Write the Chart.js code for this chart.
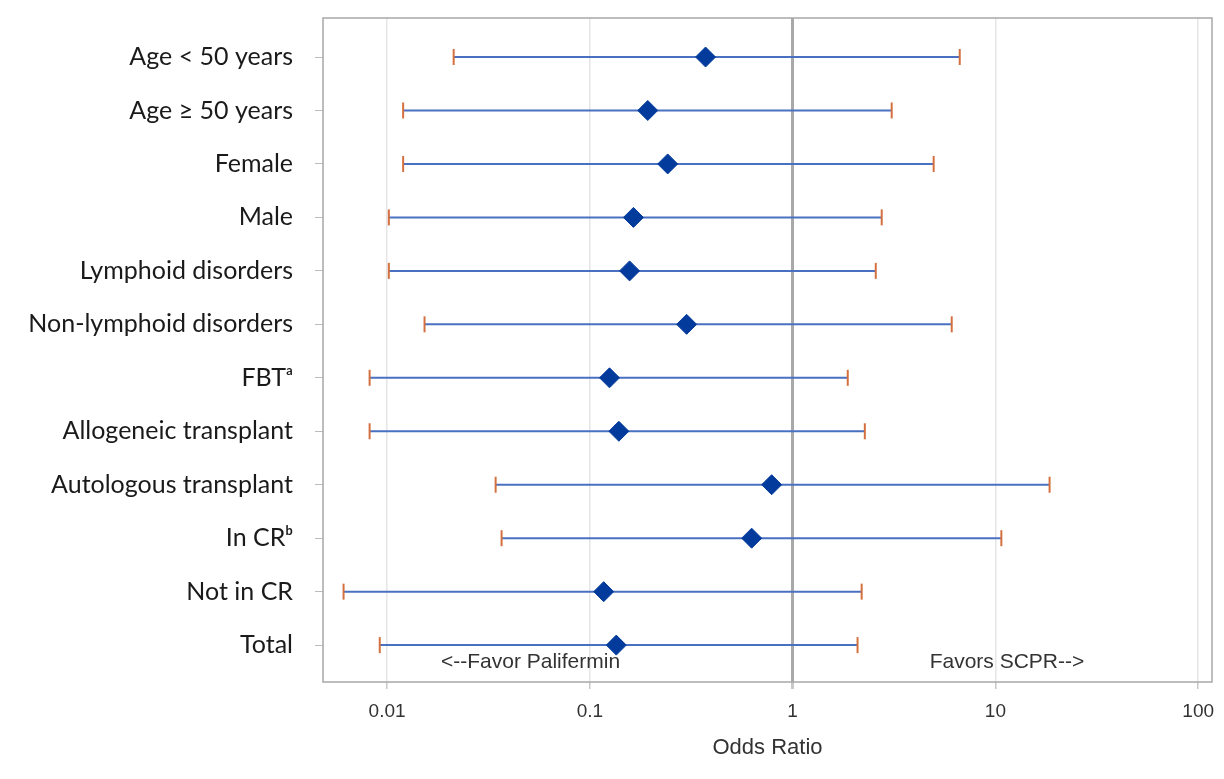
<!DOCTYPE html>
<html>
<head>
<meta charset="utf-8">
<script src="https://cdn.jsdelivr.net/npm/chart.js@4"></script>
<style>
  html, body { margin: 0; padding: 0; background: #fff; }
  #wrap { width: 1224px; height: 779px; }
</style>
</head>
<body>
<div id="wrap"><canvas id="forest"></canvas></div>
<script>
const subgroups = [
    'Age < 50 years', 'Age \u2265 50 years', 'Female', 'Male',
    'Lymphoid disorders', 'Non-lymphoid disorders', 'FBT\u1d43',
    'Allogeneic transplant', 'Autologous transplant', 'In CR\u1d47',
    'Not in CR', 'Total'
];
const oddsRatio = [0.372, 0.193, 0.242, 0.164, 0.157, 0.300, 0.125, 0.139, 0.788, 0.628, 0.117, 0.135];
const lowerCI   = [0.0213, 0.0120, 0.0120, 0.0102, 0.0102, 0.0153, 0.0082, 0.0082, 0.0343, 0.0367, 0.0061, 0.0092];
const upperCI   = [6.67, 3.08, 4.96, 2.75, 2.57, 6.09, 1.87, 2.27, 18.5, 10.7, 2.19, 2.09];
const xTicks = [0.01, 0.1, 1, 10, 100];
const notes = [
    { text: '<--Favor Palifermin', at: 0.051 },
    { text: 'Favors SCPR-->', at: 11.4 }
];

const BLUE = '#4a70c2';
const CAP = '#d4703f';
const DIAMOND = '#033b9c';
const SANS = '"Liberation Sans", Arial, sans-serif';

// one line dataset per row for the CI whisker
const whiskers = subgroups.map((name, i) => ({
    type: 'line',
    data: [{ x: lowerCI[i], y: i }, { x: upperCI[i], y: i }],
    borderColor: BLUE,
    borderWidth: 2,
    pointRadius: 0,
    order: 3
}));

const caps = {
    type: 'scatter',
    data: subgroups.flatMap((name, i) => [{ x: lowerCI[i], y: i }, { x: upperCI[i], y: i }]),
    pointStyle: 'line',
    rotation: 90,
    radius: 8,
    borderColor: CAP,
    borderWidth: 2,
    order: 2
};

const points = {
    type: 'scatter',
    data: subgroups.map((name, i) => ({ x: oddsRatio[i], y: i })),
    pointStyle: 'rectRot',
    radius: 10,
    backgroundColor: DIAMOND,
    borderColor: DIAMOND,
    borderWidth: 1,
    order: 1
};

const extras = {
    id: 'extras',
    afterDatasetsDraw(chart) {
        const { ctx, chartArea: a, scales } = chart;
        ctx.save();
        ctx.strokeStyle = '#a8a8a8';
        ctx.lineWidth = 1.5;
        ctx.strokeRect(a.left, a.top, a.right - a.left, a.bottom - a.top);
        ctx.fillStyle = '#333';
        ctx.font = '21px ' + SANS;
        ctx.textAlign = 'center';
        ctx.textBaseline = 'middle';
        notes.forEach(n => {
            ctx.fillText(n.text, scales.x.getPixelForValue(n.at), 662);
        });
        ctx.restore();
    }
};

new Chart(document.getElementById('forest'), {
    type: 'scatter',
    data: { datasets: [...whiskers, caps, points] },
    options: {
        responsive: true,
        maintainAspectRatio: false,
        animation: false,
        layout: { padding: { top: 18, right: 12, left: 0, bottom: 0 } },
        plugins: { legend: { display: false }, tooltip: { enabled: false } },
        scales: {
            x: {
                type: 'logarithmic',
                min: 0.00483,
                max: 117,
                afterBuildTicks: s => { s.ticks = xTicks.map(v => ({ value: v })); },
                afterFit: s => { s.height = 97; s.paddingLeft = 0; s.paddingRight = 0; },
                border: { display: false },
                grid: {
                    color: c => (c.tick && c.tick.value === 1) ? '#a9a9a9' : '#e6e6e6',
                    lineWidth: c => (c.tick && c.tick.value === 1) ? 3 : 1.5,
                    tickColor: '#c8c8c8',
                    tickLength: 7
                },
                ticks: {
                    callback: v => String(v),
                    color: '#333',
                    padding: 11,
                    maxRotation: 0,
                    font: { family: SANS, size: 19 }
                },
                title: {
                    display: true,
                    text: 'Odds Ratio',
                    color: '#333',
                    padding: { top: 0, bottom: 18 },
                    font: { family: SANS, size: 22 }
                }
            },
            y: {
                type: 'linear',
                reverse: true,
                min: -0.73,
                max: 11.69,
                afterBuildTicks: s => { s.ticks = subgroups.map((n, i) => ({ value: i })); },
                afterFit: s => { s.width = 323; s.paddingTop = 0; s.paddingBottom = 0; },
                border: { display: false },
                grid: { drawOnChartArea: false, tickColor: '#bbbbbb', tickLength: 8 },
                ticks: {
                    callback: v => subgroups[v],
                    color: '#1a1a1a',
                    padding: 22,
                    font: { family: 'Lato, "Open Sans", sans-serif', size: 25 }
                }
            }
        }
    },
    plugins: [extras]
});
</script>
</body>
</html>
